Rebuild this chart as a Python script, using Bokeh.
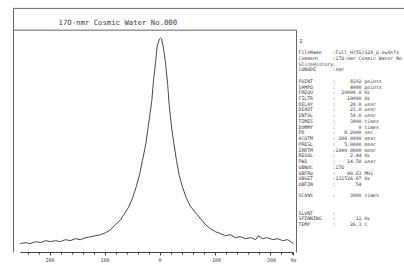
from bokeh.plotting import figure
from bokeh.models import Range1d, Label, FixedTicker
from bokeh.embed import file_html
from bokeh.resources import INLINE

# ---------------- data ----------------
title_text = "17O-nmr Cosmic Water No.000"

shift_hz = [254, 245, 236, 226, 217, 208, 199, 190, 181, 172, 163, 154, 145, 135,
            126, 117, 108, 99, 90, 85, 79, 72, 65, 57, 50, 43, 37, 32, 26, 21, 15,
            12, 8, 5, 1, -1, -3, -6, -10, -14, -17, -21, -25, -30, -35, -41, -48,
            -55, -65, -74, -83, -92, -101, -110, -119, -128, -137, -146, -155,
            -165, -174, -179, -186, -195, -205, -214, -223, -232, -243]
intensity = [-1, 0, -1, 1, 0, 2, 1, 2, 1, 3, 2, 4, 3, 5, 6, 7, 8, 10, 13, 16, 19,
             23, 29, 36, 45, 57, 69, 83, 99, 119, 143, 163, 183, 199, 206, 207,
             206, 198, 182, 160, 137, 117, 101, 83, 68, 56, 45, 37, 30, 24, 18,
             14, 11, 9, 7, 8, 5, 6, 4, 5, 3, 7, 4, 5, 3, 4, 2, 3, -1]

tick_values = [200, 100, 0, -100, -200]
tick_labels = ["200", "100", "0", "-100", "-200"]
axis_unit = "Hz"

param_names = ["FileName", "Comment", "SliceHistory", "CONODE", "",
               "POINT", "SAMPO", "FREQU", "FILTR", "DELAY", "DEADT", "INTVL",
               "TIMES", "DUMMY", "PD", "ACQTM", "PRESL", "IRRTM", "RESOL", "PW1",
               "OBNUC", "OBFRQ", "OBSET", "OBFIN", "", "SCANS", "", "", "SLVNT",
               "SPINNING", "TEMP"]
param_values = ["Full_H(5S)S28_p.ewdsfs", "17O-nmr Cosmic Water No", "", "nmr", "",
                "8192", "4000", "20000.0", "10000", "20.0", "23.0", "50.0",
                "3000", "0", "0.2000", "200.0000", "5.0000", "1000.0000", "2.44",
                "14.50", "17O", "40.63", "131526.07", "54", "", "3000", "", "", "",
                "11", "26.3"]
param_units = ["", "", "", "", "",
               "points", "points", "Hz", "Hz", "usec", "usec", "usec",
               "times", "times", "sec", "msec", "msec", "msec", "Hz", "usec",
               "", "MHz", "Hz", "", "", "times", "", "", "",
               "Hz", "C"]

# ---------------- layout ----------------
W, H = 404, 265
FRAME_BOTTOM = 255          # page y of the axis line
X0_PX, PX_PER_HZ = 159.5, 0.55
BASE_PX = 245               # page y of zero intensity
NBSP = "\u00a0"


def hz(px):                 # page x -> data x
    return (X0_PX - px) / PX_PER_HZ


def iy(py):                 # page y -> data y
    return BASE_PX - py


MONO = "DejaVu Sans Mono"
INK = "#3c3c3c"
FRAME = "#666666"

p = figure(width=W, height=H, output_backend="svg", toolbar_location=None,
           x_range=Range1d(hz(0), hz(W)), y_range=Range1d(iy(FRAME_BOTTOM), iy(0)),
           y_axis_location=None,
           min_border_left=0, min_border_right=0, min_border_top=0,
           min_border_bottom=H - FRAME_BOTTOM)
p.background_fill_color = "white"
p.border_fill_color = "white"
p.outline_line_color = None
p.grid.visible = False

ax = p.xaxis[0]
axis_end = round(hz(293))
ax.bounds = (axis_end, round(hz(20)))
ax.ticker = FixedTicker(ticks=tick_values + [axis_end],
                        minor_ticks=list(range(-240, 241, 20)))
overrides = {v: s for v, s in zip(tick_values, tick_labels)}
overrides[axis_end] = axis_unit
ax.major_label_overrides = overrides
ax.major_label_text_font = MONO
ax.major_label_text_font_size = "5px"
ax.major_label_text_color = INK
ax.major_label_standoff = 1
ax.major_tick_out = 3
ax.major_tick_in = 0
ax.minor_tick_out = 2
ax.minor_tick_in = 0
ax.axis_line_color = "#444444"
ax.major_tick_line_color = "#444444"
ax.minor_tick_line_color = "#444444"

# page frame lines (decoration)
frame_x0 = [hz(13), hz(13), hz(13), hz(296)]
frame_y0 = [iy(8), iy(8), iy(30), iy(30)]
frame_x1 = [hz(W + 5), hz(13), hz(296), hz(296)]
frame_y1 = [iy(8), iy(H + 5), iy(30), iy(H + 5)]
p.segment(frame_x0, frame_y0, frame_x1, frame_y1, line_color=FRAME, line_width=1)

# spectrum
p.line(shift_hz, intensity, line_color="#333333", line_width=0.9)

# title
p.add_layout(Label(x=hz(58), y=iy(22), text=title_text, text_font=MONO,
                   text_font_size="7.3px", text_color=INK, text_baseline="middle"))

# parameter panel
p.add_layout(Label(x=hz(299), y=iy(41), text="I", text_font=MONO,
                   text_font_size="5px", text_color=INK, text_baseline="middle"))
row0, dy = 51.0, 5.8
for i, (n, v, u) in enumerate(zip(param_names, param_values, param_units)):
    if n == "":
        continue
    common = dict(y=iy(row0 + i * dy + 1.8), text_font=MONO, text_font_size="4.8px",
                  text_color=INK, text_baseline="alphabetic")
    p.add_layout(Label(x=hz(298), text=n, **common))
    p.add_layout(Label(x=hz(332), text=":", **common))
    if v:
        try:
            float(v)
            shown = NBSP * (9 - len(v)) + v + (NBSP + u if u else "")
        except ValueError:
            shown = v
        p.add_layout(Label(x=hz(335), text=shown, **common))

open("out.html", "w").write(file_html(p, INLINE))
